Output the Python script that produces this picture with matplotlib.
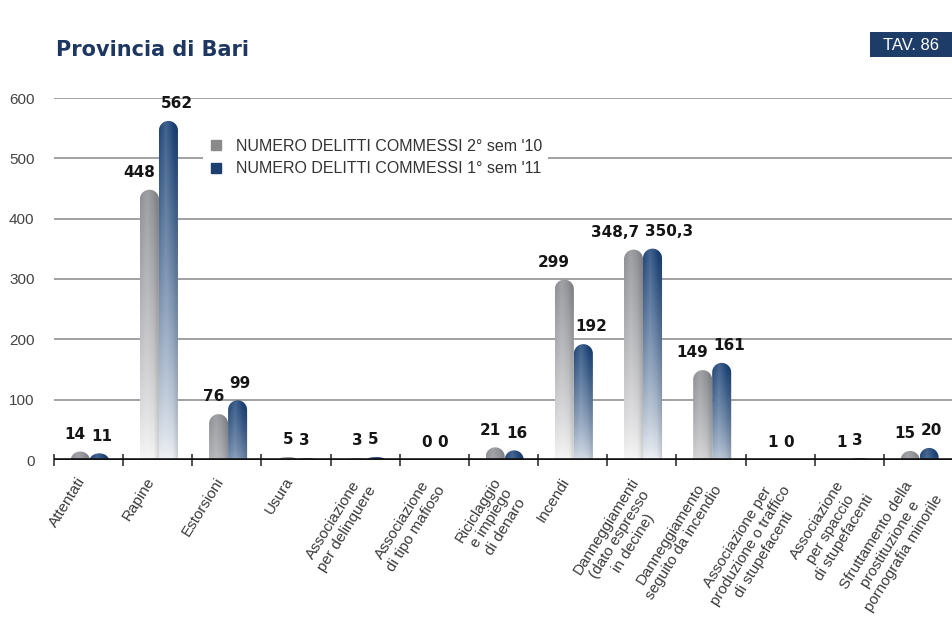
import numpy as np
import matplotlib.pyplot as plt
from matplotlib.path import Path
from matplotlib.patches import PathPatch, Rectangle
from matplotlib.lines import Line2D
from matplotlib.colors import to_rgb

plt.rcParams['font.family'] = ['Liberation Sans', 'DejaVu Sans']

# dati
categories = [
    'Attentati',
    'Rapine',
    'Estorsioni',
    'Usura',
    'Associazione\nper delinquere',
    'Associazione\ndi tipo mafioso',
    'Riciclaggio\ne impiego\ndi denaro',
    'Incendi',
    'Danneggiamenti\n(dato espresso\nin decine)',
    'Danneggiamento\nseguito da incendio',
    'Associazione per\nproduzione o traffico\ndi stupefacenti',
    'Associazione\nper spaccio\ndi stupefacenti',
    'Sfruttamento della\nprostituzione e\npornografia minorile',
]
sem2_10 = [14, 448, 76, 5, 3, 0, 21, 299, 348.7, 149, 1, 1, 15]
sem1_11 = [11, 562, 99, 3, 5, 0, 16, 192, 350.3, 161, 0, 3, 20]
series_names = ["NUMERO DELITTI COMMESSI 2° sem '10",
                "NUMERO DELITTI COMMESSI 1° sem '11"]
yticks = [0, 100, 200, 300, 400, 500, 600]

grey_top = to_rgb('#8a8b90')
blue_top = to_rgb('#173f73')
white = np.array([1.0, 1.0, 1.0])


def fmt(v):
    if float(v).is_integer():
        return str(int(v))
    return f'{v:.1f}'.replace('.', ',')


def bar_path(xc, w, h, ry):
    rx = w / 2
    ry = min(ry, h)
    t = np.linspace(np.pi, 0, 40)
    xs = np.concatenate([[xc - rx], xc + rx * np.cos(t), [xc + rx], [xc - rx]])
    ys = np.concatenate([[0], h - ry + ry * np.sin(t), [0], [0]])
    return Path(np.column_stack([xs, ys]), closed=True)


def gradient_bar(ax, xc, w, h, top, ry):
    if h <= 0:
        return
    top = np.array(top)
    fade = 0.93 * min(1.0, h / 220)
    bottom = top * (1 - fade) + white * fade
    fy = np.linspace(0, 1, 200)[:, None, None] ** 0.8
    fx = np.linspace(0, 1, 40)[None, :, None]
    img = bottom + (top - bottom) * fy
    # leggera ombreggiatura cilindrica
    light = 0.18 * np.clip(1 - np.abs(fx - 0.35) * 2.5, 0, 1)
    dark = 0.15 * np.clip((fx - 0.7) / 0.3, 0, 1)
    img = img * (1 - light) + white * light
    img = img * (1 - dark)
    patch = PathPatch(bar_path(xc, w, h, ry), facecolor='none', edgecolor='none',
                      transform=ax.transData)
    ax.add_patch(patch)
    im = ax.imshow(np.clip(img, 0, 1), extent=[xc - w / 2, xc + w / 2, 0, h],
                   origin='lower', aspect='auto', interpolation='bilinear', zorder=3)
    im.set_clip_path(patch)


fig = plt.figure(figsize=(9.53, 6.26), dpi=100)
ax = fig.add_axes([54 / 953, 1 - 460 / 626, 1 - 54 / 953, (460 - 98) / 626])

x = np.arange(len(categories))
w = 0.275
ry = 15.8

for i in x:
    pairs = ((sem2_10[i], -0.12, grey_top, 'right', -2),
             (sem1_11[i], 0.155, blue_top, 'left', 2))
    for v, dx, col, ha, off in pairs:
        gradient_bar(ax, i + dx, w, v, col, ry)
        # etichette: grigio a sinistra, blu a destra del centro categoria
        ax.annotate(fmt(v), (i, v), xytext=(off, 7), textcoords='offset points',
                    ha=ha, va='bottom', fontsize=11, fontweight='bold',
                    family=['DejaVu Sans'], color='#151515', zorder=6,
                    annotation_clip=False)

for y in yticks[1:]:
    ax.axhline(y, color='#888888', lw=1.1, zorder=1)
ax.axhline(0, color='#111111', lw=2.6, zorder=5)

ax.set_xlim(-0.5, len(categories) - 0.5)
ax.set_ylim(0, 600)
for s in ax.spines.values():
    s.set_visible(False)

ax.set_yticks(yticks)
ax.tick_params(axis='y', length=0, pad=14, labelsize=11, labelcolor='#444444')

# etichette categorie ruotate
ax.set_xticks(x)
ax.set_xticklabels([])
ax.tick_params(axis='x', which='major', length=0)
for i, lab in zip(x, categories):
    ax.annotate(lab, (i, 0), xytext=(-12, -15), textcoords='offset pixels',
                rotation=58, ha='right', va='top', rotation_mode='anchor',
                multialignment='center', linespacing=1.18,
                fontsize=11, color='#3a3a3a', annotation_clip=False)
ax.set_xticks(np.arange(-0.5, len(categories), 1), minor=True)
ax.tick_params(axis='x', which='minor', length=8, width=1.1, direction='inout',
               color='#222222')

handles = [Line2D([], [], marker='s', ls='none', color='#8a8a8a', markersize=7),
           Line2D([], [], marker='s', ls='none', color='#1d3f70', markersize=7)]
leg = ax.legend(handles, series_names, loc='center left',
                bbox_to_anchor=(203 / 953, 1 - 157.5 / 626), bbox_transform=fig.transFigure,
                borderaxespad=0, borderpad=0.4, handlelength=0.8, handletextpad=0.85,
                labelspacing=0.5, fontsize=11.5, labelcolor='#333333',
                frameon=True, facecolor='white', edgecolor='none', framealpha=1,
                fancybox=False)
leg.set_zorder(7)

fig.text(56 / 953, 1 - 50 / 626, 'Provincia di Bari', fontsize=15, fontweight='bold',
         color='#1d3761', ha='left', va='center', family=['DejaVu Sans'])

fig.patches.append(Rectangle((870 / 953, 1 - 57 / 626), 83 / 953, 25 / 626,
                             transform=fig.transFigure, facecolor='#1e3c68',
                             edgecolor='none', zorder=5))
fig.text(911 / 953, 1 - 45 / 626, 'TAV. 86', fontsize=12, color='white',
         ha='center', va='center', zorder=6)

fig.savefig('out.png', dpi=100)
